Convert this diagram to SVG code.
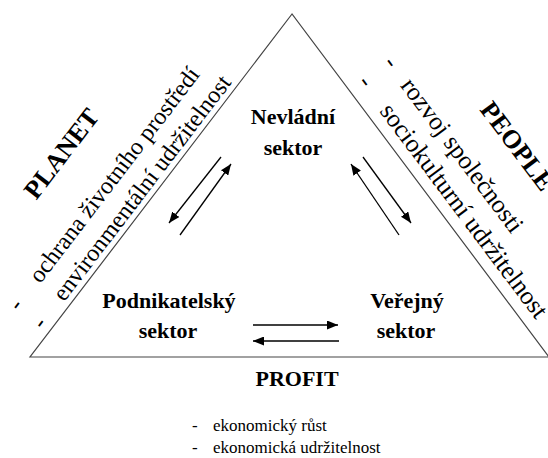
<svg xmlns="http://www.w3.org/2000/svg" width="548" height="458" viewBox="0 0 548 458" font-family="'Liberation Serif', 'DejaVu Serif', serif">
<style>
text{font-family:'Liberation Serif','DejaVu Serif',serif;fill:#000}
.b{font-weight:bold;font-size:22px}
.big{font-weight:bold;font-size:26px}
.r{font-size:24px}
.r2{font-size:25.5px}
.l{font-size:17px}
.c{text-anchor:middle}
.conn line{stroke:#000;stroke-width:1.3;marker-end:url(#ah)}
</style>
<defs>
<marker id="ah" markerUnits="userSpaceOnUse" markerWidth="11" markerHeight="9" refX="11" refY="4.5" orient="auto">
<path d="M0,0 L11,4.5 L0,9 z" fill="#000"/>
</marker>
</defs>
<rect width="548" height="458" fill="#fff"/>
<g id="triangle">
<polygon points="292,14 30,357 549,357" fill="none" stroke="#444" stroke-width="1.2"/>
</g>
<g id="nevladni">
<text class="b c" x="293" y="124">Nevládní</text>
<text class="b c" x="293" y="155">sektor</text>
</g>
<g id="podnikatelsky">
<text class="b c" x="169" y="308">Podnikatelský</text>
<text class="b c" x="168" y="338">sektor</text>
</g>
<g id="verejny">
<text class="b c" x="407" y="308">Veřejný</text>
<text class="b c" x="406" y="338">sektor</text>
</g>
<g id="planet" transform="translate(30,357) rotate(-52.6)">
<text class="big" x="128" y="-90">PLANET</text>
<text class="r" x="29" y="-36">-</text>
<text class="r" x="64" y="-36">ochrana životního prostředí</text>
<text class="r" x="29" y="-6">-</text>
<text class="r" x="64" y="-6">environmentální udržitelnost</text>
</g>
<g id="people" transform="translate(292,14) rotate(53.07)">
<text class="big" x="189" y="-92">PEOPLE</text>
<text class="r2" x="94" y="-43">-</text>
<text class="r2" x="122" y="-43">rozvoj společnosti</text>
<text class="r2" x="94" y="-11">-</text>
<text class="r2" x="130" y="-11">sociokulturní udržitelnost</text>
</g>
<g id="profit">
<text class="b c" x="297" y="386">PROFIT</text>
<text class="l" x="192" y="431">-</text>
<text class="l" x="213" y="431">ekonomický růst</text>
<text class="l" x="192" y="453">-</text>
<text class="l" x="213" y="453">ekonomická udržitelnost</text>
</g>
<g id="connectors" class="conn">
<line x1="221" y1="157" x2="169" y2="223"/>
<line x1="180" y1="235" x2="231" y2="164"/>
<line x1="399" y1="235" x2="351" y2="164"/>
<line x1="363" y1="157" x2="411" y2="223"/>
<line x1="253" y1="325" x2="338" y2="325"/>
<line x1="339" y1="341" x2="253" y2="341"/>
</g>
</svg>
